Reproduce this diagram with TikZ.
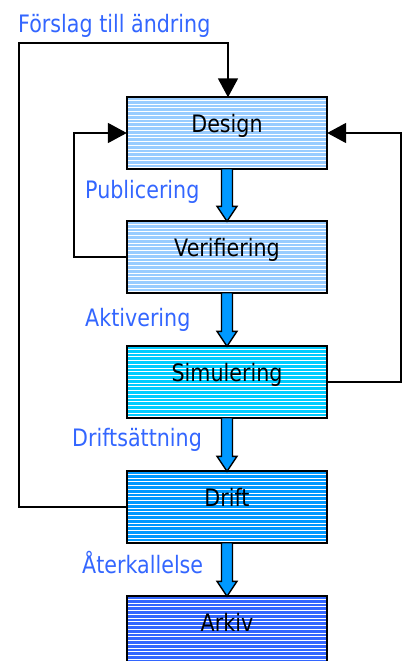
\documentclass[tikz,border=0pt]{standalone}
\usepackage{fontspec}
\setmainfont{DejaVu Sans}[FakeStretch=0.86]
\usetikzlibrary{calc,arrows.meta}
\definecolor{lblue}{RGB}{153,204,255}
\definecolor{cyanb}{RGB}{0,204,255}
\definecolor{midb}{RGB}{0,153,255}
\definecolor{darkb}{RGB}{51,102,255}
\definecolor{lbltext}{RGB}{51,102,255}
\newcommand\stripebox[1]{%
  \begin{scope}
    \clip ($(#1.north west)+(1,1)$) rectangle ($(#1.south east)+(-1,-1)$);
    \foreach \yy in {3,6.75,...,72} \draw[white,line width=0.9pt] ($(#1.north west)+(0,\yy)$) -- ++(200,0);
  \end{scope}
  \draw[line width=1.8pt] (#1.north west) rectangle (#1.south east);}
\newcommand\blockarrow[2]{%
  \draw[barrow] ($(#1.south)+(-5.5,0)$) -- ($(#2.north)+(-5.5,-15)$) -- ++(-4.5,0) -- (#2.north)
    -- ($(#2.north)+(10,-15)$) -- ++(-4.5,0) -- ($(#1.south)+(5.5,0)$) -- cycle;}
\begin{document}
\begin{tikzpicture}[x=1pt,y=-1pt,
  box/.style={minimum width=200pt, minimum height=71pt, inner sep=0pt, draw=none},
  boxtext/.style={anchor=base, inner sep=0pt, font=\fontsize{24}{28}\selectfont},
  lbl/.style={anchor=base west, inner sep=0pt, text=lbltext, font=\fontsize{24}{28}\selectfont},
  conn/.style={line width=1.8pt, -{Triangle[length=19pt,width=20pt]}},
  barrow/.style={fill=midb, draw=black, line width=1.4pt, line join=miter}]
\useasboundingbox (0,0) rectangle (407,661);
\clip (0,0) rectangle (407,661);
\fill[white] (0,0) rectangle (407,661);
% boxes
\node[box, fill=lblue] (design) at (227,133) {};
\node[box, fill=lblue] (verif) at (227,257) {};
\node[box, fill=cyanb] (sim) at (227,382) {};
\node[box, fill=midb] (drift) at (227,507) {};
\node[box, fill=darkb] (arkiv) at (227,632) {};
\stripebox{design}
\stripebox{verif}
\stripebox{sim}
\stripebox{drift}
\stripebox{arkiv}
\node[boxtext] (designlbl) at ($(design.center)+(0,-1)$) {Design};
\node[boxtext] (veriflbl) at ($(verif.center)+(0,-1)$) {Verifiering};
\node[boxtext] (simlbl) at ($(sim.center)+(0,-1)$) {Simulering};
\node[boxtext] (driftlbl) at ($(drift.center)+(0,-1)$) {Drift};
\node[boxtext] (arkivlbl) at ($(arkiv.center)+(0,-1)$) {Arkiv};
% block arrows
\blockarrow{design}{verif}
\blockarrow{verif}{sim}
\blockarrow{sim}{drift}
\blockarrow{drift}{arkiv}
% feedback loops
\coordinate (topc) at (228,43);
\draw[conn] (drift.west) -- ++(-108,0) |- (topc) -- (topc |- design.north);
\draw[conn] (verif.west) -- ++(-53,0) |- (design.west);
\draw[conn] (sim.east) -- ++(74,0) |- (design.east);
% labels
\node[lbl] (forslag) at (18,33) {Förslag till ändring};
\node[lbl] (publ) at (85,198) {Publicering};
\node[lbl] (aktiv) at (85,326) {Aktivering};
\node[lbl] (drifts) at (72,446) {Driftsättning};
\node[lbl] (aterk) at (82,573) {Återkallelse};
\end{tikzpicture}
\end{document}
